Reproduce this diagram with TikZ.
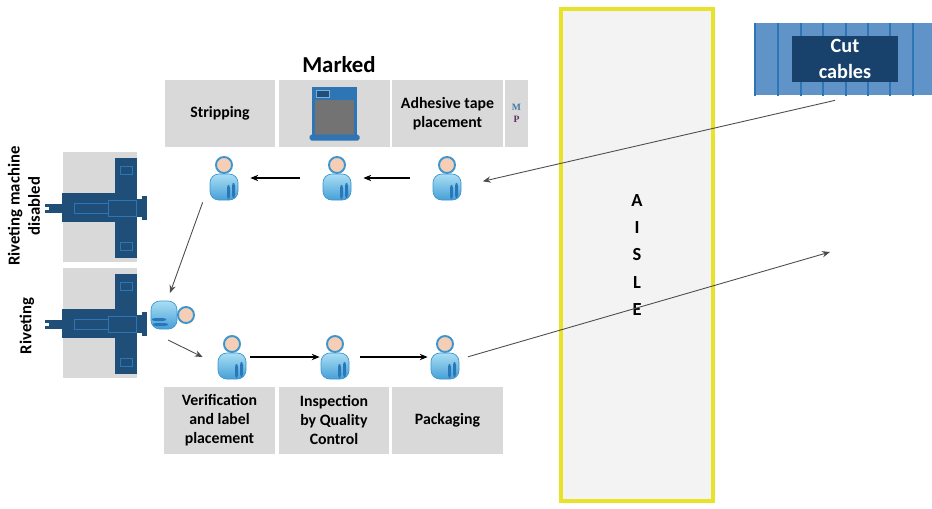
\documentclass[tikz,border=0pt]{standalone}
\usepackage{fontspec}
\setmainfont{Carlito}
\newfontfamily\tinyserif{Liberation Serif}
\usetikzlibrary{arrows.meta}

\definecolor{boxgray}{RGB}{217,217,217}
\definecolor{aislegray}{RGB}{243,243,243}
\definecolor{aisleyellow}{RGB}{232,226,40}
\definecolor{rivnavy}{RGB}{31,78,121}
\definecolor{rivlight}{RGB}{46,117,182}
\definecolor{cablemid}{RGB}{96,148,200}
\definecolor{cabledark}{RGB}{24,66,108}
\definecolor{wlight}{RGB}{170,222,245}
\definecolor{wmid}{RGB}{70,160,215}
\definecolor{wdark}{RGB}{40,120,185}
\definecolor{wline}{RGB}{60,150,205}
\definecolor{skin}{RGB}{246,206,182}

\tikzset{
  pics/worker/.style={code={
    \draw[draw=wline, line width=0.4pt, top color=wlight, bottom color=wmid, rounded corners=5pt] (-14,22) rectangle (14,-4);
    \fill[wdark, rounded corners=1.5pt] (3,7) rectangle (6,21);
    \fill[wdark, rounded corners=1.5pt] (8,5) rectangle (11,20);
    \draw[draw=wline, line width=1.1pt, fill=skin] (0,-13) circle [radius=8];
  }},
  pics/riveter/.style={code={
    \fill[rivnavy] (-11,-50) rectangle (11,50);
    \fill[rivnavy] (-64,-15) rectangle (-6,14);
    \fill[rivnavy] (-81,-4) rectangle (-64,5);
    \fill[rivnavy] (-6,-9) rectangle (16,9);
    \fill[rivnavy] (16,-12) rectangle (21,12);
    \fill[white] (-81,-1.5) rectangle (-77,1.5);
    \draw[rivlight, line width=0.5pt] (-52,-5) rectangle (-18,5) (-18,-8) rectangle (10,8)
      (-6,-42) rectangle (6,-34) (-6,34) rectangle (6,42);
  }},
  pics/panel/.style={code={
    \draw[line width=1.6pt, draw=rivlight, fill=gray!90!black] (-21,-25) rectangle (21,25);
    \fill[rivlight] (-21,-25) rectangle (21,-14);
    \draw[rivlight!60, fill=rivnavy, line width=0.4pt] (-18,-23) rectangle (-5,-16);
    \fill[rivlight, rounded corners=1pt] (-25,21) rectangle (25,27);
  }}
}

\begin{document}
\begin{tikzpicture}[>={Stealth[length=4.5pt,width=3.6pt]}, x=0.02cm, y=-0.02cm,
  station/.style={fill=boxgray, minimum width=2.22cm, minimum height=1.34cm, inner sep=0pt,
    align=center, font=\bfseries\fontsize{9}{10.8}\selectfont},
  side/.style={fill=boxgray, minimum width=1.48cm, minimum height=2.2cm, inner sep=0pt},
  person/.style={minimum width=0.6cm, minimum height=0.88cm, inner sep=0pt},
  flow/.style={->, line width=0.7pt},
  route/.style={->, line width=0.5pt, draw=black!70}]
\useasboundingbox (0,0) rectangle (932,508);

% aisle
\node[draw=aisleyellow, line width=0.08cm, fill=aislegray, minimum width=3.04cm, minimum height=9.84cm,
  align=center, font=\bfseries\fontsize{10.5}{15.5}\selectfont] (aisle) at (637,255) {A\\I\\S\\L\\E};

% cut cables rack
\node[fill=cablemid, minimum width=3.6cm, minimum height=1.44cm, inner sep=0pt] (cables) at (845,59) {};
\foreach \sx in {755,778,801,823,846,868,890,913}
  \draw[rivlight, line width=1.2pt] (\sx,23) -- (\sx,96);
\node[fill=cabledark, minimum width=2.12cm, minimum height=0.92cm, inner sep=0pt, text=white, align=center,
  font=\bfseries\fontsize{11.5}{14.5}\selectfont] (cutlbl) at (845,59) {Cut\\cables};

% stations
\node[font=\bfseries\fontsize{13}{15}\selectfont] (marked) at (339,65) {Marked};
\node[station] (strip) at (220,113.5) {Stripping};
\node[station] (mark) at (334.5,113.5) {};
\pic at (mark) {panel};
\node[station] (tape) at (447.5,113.5) {Adhesive tape\\placement};
\node[station, minimum width=0.46cm, font=\tinyserif\bfseries\fontsize{5.5}{7}\selectfont] (mp) at (516.5,113.5)
  {\textcolor{rivlight!70!gray}{M}\\\textcolor{rivnavy!60!purple}{P}};

\node[station] (verif) at (219.5,420) {Verification\\and label\\placement};
\node[station] (qc) at (334,420) {Inspection\\by Quality\\Control};
\node[station] (pack) at (447.5,420) {Packaging};

\node[side] (rivbox1) at (100,207) {};
\node[side] (rivbox2) at (100,323) {};
\pic at (126,208) {riveter};
\pic at (126,324) {riveter};
\node[rotate=90, align=center, font=\bfseries\fontsize{9.5}{11.5}\selectfont] (rivoff) at (24,206) {Riveting machine\\disabled};
\node[rotate=90, font=\bfseries\fontsize{9.5}{11.5}\selectfont] (riv) at (27,326) {Riveting};

% operators
\foreach \n/\px/\py in {w1/224/178, w2/337/178, w3/447/178, w4/232/357, w5/335/357, w6/445/357} {
  \node[person] (\n) at (\px,\py) {};
  \pic at (\n) {worker};
}
\node[person, rotate=-90] (w0) at (173,315) {};
\pic[rotate=-90] at (w0) {worker};

\draw[flow, shorten <=0.44cm, shorten >=0.22cm] (w3.west) -- (w2.east);
\draw[flow, shorten <=0.44cm, shorten >=0.22cm] (w2.west) -- (w1.east);
\draw[route] ([xshift=-0.12cm,yshift=-0.04cm]w1.south west) -- ([xshift=-0.06cm,yshift=0.44cm]w0.center);
\draw[route] ([xshift=-0.1cm,yshift=-0.5cm]w0.center) -- ([xshift=-0.28cm]w4.west);
\draw[flow, shorten <=0.06cm] (w4.east) -- (w5.west);
\draw[flow, shorten <=0.2cm, shorten >=0.04cm] (w5.east) -- (w6.west);

\coordinate (dispatch) at (830,252);
\draw[route, shorten >=0.42cm] ([xshift=-0.2cm,yshift=-0.1cm]cables.south) -- ([yshift=-0.16cm]w3.east);
\draw[route, shorten <=0.16cm] ([yshift=-0.04cm]w6.east) -- (dispatch);
\end{tikzpicture}
\end{document}
